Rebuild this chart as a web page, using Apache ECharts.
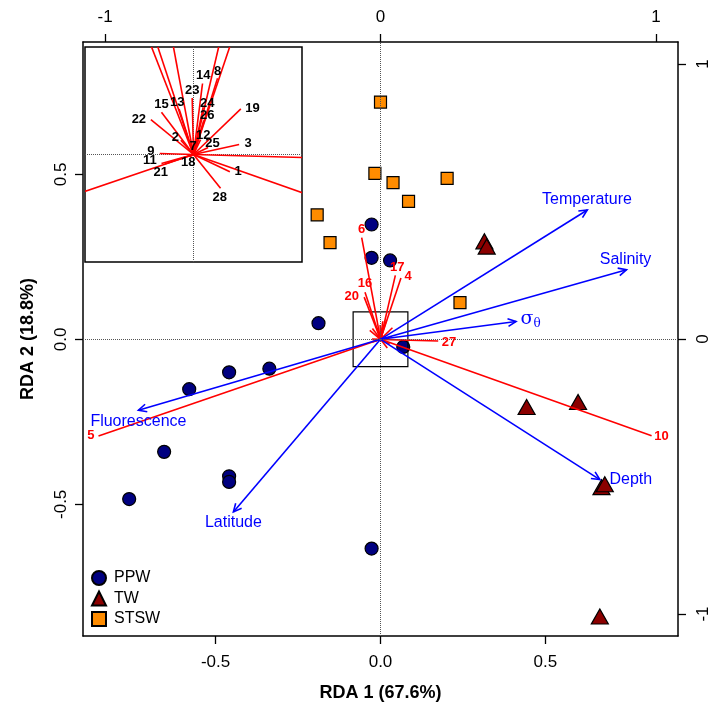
<!DOCTYPE html>
<html><head><meta charset="utf-8">
<script src="https://cdn.jsdelivr.net/npm/echarts@6/dist/echarts.min.js"></script>
<style>html,body{margin:0;padding:0;background:#fff}#c{width:720px;height:720px}</style>
</head><body><div id="c"></div>
<script>
// ---- site scores (RDA1, RDA2) ----
const ppwSites = [[-0.027,0.348],[-0.027,0.247],[0.029,0.239],[-0.188,0.049],[0.069,-0.023],[-0.337,-0.089],[-0.459,-0.100],[-0.580,-0.151],[-0.656,-0.341],[-0.459,-0.415],[-0.459,-0.432],[-0.762,-0.484],[-0.027,-0.634]];
const twSites = [[0.315,0.297],[0.322,0.281],[0.443,-0.205],[0.599,-0.190],[0.670,-0.448],[0.680,-0.439],[0.665,-0.840]];
const stswSites = [[0.000,0.719],[-0.017,0.503],[0.038,0.475],[0.202,0.488],[0.085,0.418],[-0.192,0.377],[-0.153,0.293],[0.241,0.111]];

// ---- environmental vectors ----
const envNames = ['Temperature','Salinity','{s|σ}{t|θ}','Depth','Fluorescence','Latitude'];
const envTips = [[0.627,0.392],[0.746,0.211],[0.411,0.054],[0.665,-0.425],[-0.734,-0.215],[-0.446,-0.523]];
const envLabelPos = [[0.626,0.424],[0.743,0.242],[0.455,0.062],[0.759,-0.424],[-0.734,-0.248],[-0.446,-0.555]];

// ---- species vectors (1..28) ----
const speciesIds = ['1','2','3','4','5','6','7','8','9','10','11','12','13','14','15','16','17','18','19','20','21','22','23','24','25','26','27','28'];
const speciesTips = [[0.0278,-0.0133],[-0.0097,0.011],[0.0349,0.0077],[0.062,0.186],[-0.855,-0.293],[-0.057,0.308],[-0.0003,0.0033],[0.0184,0.0589],[-0.0258,0.0008],[0.822,-0.292],[-0.0245,-0.0069],[0.0054,0.0115],[-0.011,0.0352],[0.0069,0.0548],[-0.0245,0.0326],[-0.047,0.143],[0.045,0.194],[-0.0028,-0.0018],[0.0362,0.0352],[-0.0495,0.128],[-0.0219,-0.0074],[-0.0326,0.027],[-0.001,0.0436],[0.0074,0.0365],[0.0112,0.0054],[0.0079,0.0263],[0.175,-0.005],[0.0207,-0.026]];
const speciesLabelPos = [[0.0342,-0.0128],[-0.0138,0.0135],[0.0418,0.0084],[0.084,0.191],[-0.878,-0.290],[-0.057,0.332],[-0.0003,0.0064],[0.0184,0.0645],[-0.0326,0.0026],[0.852,-0.293],[-0.0334,-0.0048],[0.0074,0.0148],[-0.0125,0.0403],[0.0074,0.0607],[-0.0245,0.0385],[-0.047,0.169],[0.051,0.219],[-0.0041,-0.0064],[0.0451,0.0352],[-0.087,0.130],[-0.0250,-0.0140],[-0.0418,0.0268],[-0.0010,0.0492],[0.0105,0.0395],[0.0145,0.0084],[0.0105,0.0301],[0.208,-0.008],[0.0201,-0.0332]];
const mainLabelled = ['4','5','6','10','16','17','20','27'];

// ---- axes ----
const bottomTicks = [-0.5, 0, 0.5];
const topTicks = [-1, 0, 1];
const zoomHalf = 0.083;

const FONT = 'Liberation Sans, Arial, Helvetica, sans-serif';
const chart = echarts.init(document.getElementById('c'));

function segRender(color, head) {
  return function (params, api) {
    const p0 = api.coord([0, 0]);
    const p1 = api.coord([api.value(0), api.value(1)]);
    const ch = [{type:'line', shape:{x1:p0[0],y1:p0[1],x2:p1[0],y2:p1[1]}, style:{stroke:color, lineWidth:1.6}}];
    if (head) {
      const ang = Math.atan2(p1[1]-p0[1], p1[0]-p0[0]);
      const L = 9, a = Math.PI/7;
      ch.push({type:'polyline', shape:{points:[[p1[0]-L*Math.cos(ang-a), p1[1]-L*Math.sin(ang-a)], [p1[0],p1[1]], [p1[0]-L*Math.cos(ang+a), p1[1]-L*Math.sin(ang+a)]]}, style:{stroke:color, fill:null, lineWidth:1.6}});
    }
    return {type:'group', children: ch};
  };
}
function textRender(color, size, weight) {
  return function (params, api) {
    const p = api.coord([api.value(0), api.value(1)]);
    return {type:'text', x:p[0], y:p[1], style:{text: api.value(2), fill:color, fontSize:size, fontWeight:weight, fontFamily:FONT, align:'center', verticalAlign:'middle',
      rich:{s:{fontSize:19, fontFamily:'DejaVu Serif, serif', fill:color}, t:{fontSize:12, fontFamily:'DejaVu Serif, serif', fill:color, padding:[10,0,0,0]}}}};
  };
}

const mainLabelData = [], insetLabelData = [];
speciesIds.forEach((id, i) => {
  const d = [speciesLabelPos[i][0], speciesLabelPos[i][1], id];
  if (mainLabelled.includes(id)) mainLabelData.push(d); else insetLabelData.push(d);
});
const pt = (arr) => arr.map(v => [v[0], v[1]]);

const axisCommon = {
  type:'value', splitLine:{show:false},
  axisLine:{show:true, onZero:false, lineStyle:{color:'#000', width:1.5}},
  axisTick:{show:true, length:8, lineStyle:{color:'#000', width:1.3}},
  axisLabel:{color:'#000', fontSize:17, fontFamily:FONT}
};

chart.setOption({
  animation:false,
  backgroundColor:'#fff',
  grid:[
    {left:83, top:42, right:42, bottom:84, outerBoundsMode:'none', containLabel:false},
    {left:85, top:47, width:217, height:215, show:true, backgroundColor:'#fff', borderColor:'#000', borderWidth:1.5, outerBoundsMode:'none', containLabel:false, z:5}
  ],
  xAxis:[
    Object.assign({}, axisCommon, {gridIndex:0, position:'bottom', min:-0.902, max:0.902,
      axisTick:Object.assign({}, axisCommon.axisTick, {customValues:bottomTicks}),
      axisLabel:Object.assign({}, axisCommon.axisLabel, {customValues:bottomTicks, margin:18, formatter:v=>v.toFixed(1)}),
      name:'RDA 1 (67.6%)', nameLocation:'middle', nameGap:48, nameTextStyle:{fontSize:18, fontWeight:'bold', color:'#000', fontFamily:FONT}}),
    Object.assign({}, axisCommon, {gridIndex:0, position:'top', min:-1.08, max:1.08,
      axisTick:Object.assign({}, axisCommon.axisTick, {customValues:topTicks}),
      axisLabel:Object.assign({}, axisCommon.axisLabel, {customValues:topTicks, margin:16, formatter:v=>String(v)})}),
    {type:'value', gridIndex:1, min:-zoomHalf, max:zoomHalf, show:false}
  ],
  yAxis:[
    Object.assign({}, axisCommon, {gridIndex:0, position:'left', min:-0.899, max:0.901,
      axisTick:Object.assign({}, axisCommon.axisTick, {customValues:bottomTicks}),
      axisLabel:Object.assign({}, axisCommon.axisLabel, {customValues:bottomTicks, rotate:90, margin:13, formatter:v=>v.toFixed(1)}),
      name:'RDA 2 (18.8%)', nameLocation:'middle', nameGap:46, nameRotate:90, nameTextStyle:{fontSize:18, fontWeight:'bold', color:'#000', fontFamily:FONT}}),
    Object.assign({}, axisCommon, {gridIndex:0, position:'right', min:-1.08, max:1.08,
      axisTick:Object.assign({}, axisCommon.axisTick, {customValues:topTicks}),
      axisLabel:Object.assign({}, axisCommon.axisLabel, {customValues:topTicks, rotate:90, margin:17, formatter:v=>String(v)})}),
    {type:'value', gridIndex:1, min:-zoomHalf, max:zoomHalf, show:false}
  ],
  legend:{
    orient:'vertical', left:91, top:570, padding:0, itemWidth:14, itemHeight:14, itemGap:4.5,
    data:['PPW','TW','STSW'],
    textStyle:{fontSize:16, color:'#000', fontFamily:FONT, lineHeight:14, padding:[0,0,0,3]}
  },
  series:[
    {type:'scatter', name:'PPW', data:pt(ppwSites), symbol:'circle', symbolSize:13, z:2,
     itemStyle:{color:'#000080', borderColor:'#000', borderWidth:1.2, opacity:1},
     markLine:{silent:true, symbol:'none', label:{show:false}, lineStyle:{color:'#555', type:'dotted', width:1}, data:[{xAxis:0},{yAxis:0}]}},
    {type:'scatter', name:'TW', data:pt(twSites), symbol:'triangle', symbolSize:[17,15], z:2,
     itemStyle:{color:'#8B0000', borderColor:'#000', borderWidth:1.2, opacity:1}},
    {type:'scatter', name:'STSW', data:pt(stswSites), symbol:'rect', symbolSize:12, z:2,
     itemStyle:{color:'#FF8C00', borderColor:'#000', borderWidth:1.2, opacity:1}},
    // centre box
    {type:'custom', name:'box', data:[[zoomHalf, zoomHalf]], z:3, silent:true,
     renderItem:(params, api)=>{ const a = api.coord([-api.value(0), api.value(1)]); const b = api.coord([api.value(0), -api.value(1)]);
       return {type:'rect', shape:{x:a[0], y:a[1], width:b[0]-a[0], height:b[1]-a[1]}, style:{stroke:'#000', fill:null, lineWidth:1.2}}; }},
    {type:'custom', name:'species', data:pt(speciesTips), z:4, silent:true, renderItem:segRender('#FF0000', false)},
    {type:'custom', name:'env', data:pt(envTips), z:4, silent:true, renderItem:segRender('#0000FF', true)},
    {type:'custom', name:'spLab', data:mainLabelData, z:5, silent:true, renderItem:textRender('#FF0000', 13, 'bold')},
    {type:'custom', name:'envLab', data:envTips.map((v,i)=>[envLabelPos[i][0], envLabelPos[i][1], envNames[i]]), z:5, silent:true, renderItem:textRender('#0000FF', 16, 'normal')},
    // inset
    {type:'custom', name:'insetSpecies', xAxisIndex:2, yAxisIndex:2, data:pt(speciesTips), z:10, clip:true, silent:true, renderItem:segRender('#FF0000', false),
     markLine:{silent:true, symbol:'none', label:{show:false}, lineStyle:{color:'#555', type:'dotted', width:1}, data:[{xAxis:0},{yAxis:0}]}},
    {type:'custom', name:'insetLab', xAxisIndex:2, yAxisIndex:2, data:insetLabelData, z:11, silent:true, renderItem:textRender('#000', 13, 'bold')}
  ]
});
</script></body></html>
